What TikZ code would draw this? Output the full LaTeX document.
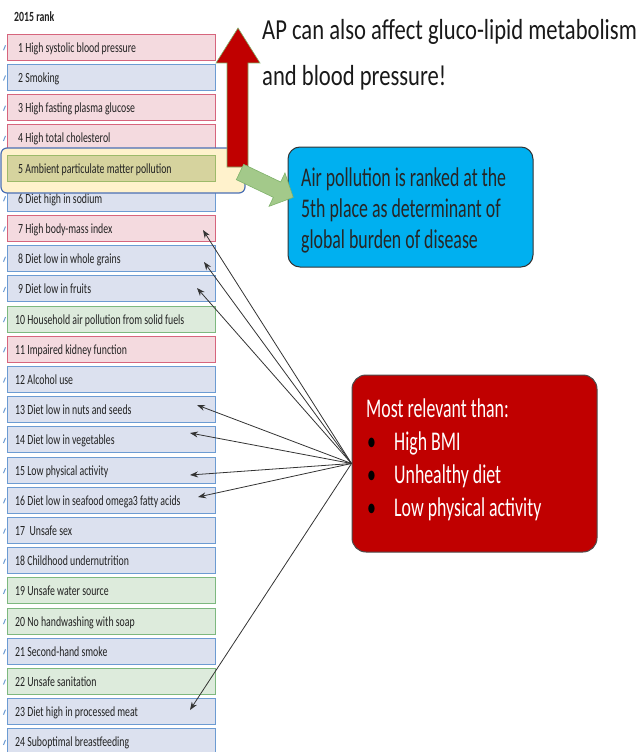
\documentclass[tikz,border=0pt]{standalone}
\usepackage{fontspec}
\setmainfont{Carlito}
\newfontfamily\rankfont[FakeStretch=0.70]{Carlito}
\newfontfamily\bigfont[FakeStretch=0.66]{Carlito}
\newfontfamily\titlefont[FakeStretch=0.78]{Carlito}
\usetikzlibrary{arrows.meta}
\definecolor{rfill}{HTML}{F4DADF}
\definecolor{rline}{HTML}{D6657D}
\definecolor{bfill}{HTML}{DCE1EF}
\definecolor{bline}{HTML}{6C9BD2}
\definecolor{gfill}{HTML}{DDEBDC}
\definecolor{gline}{HTML}{7DB87F}
\definecolor{yfill}{HTML}{D6D39E}
\definecolor{yline}{HTML}{9DBA6A}
\definecolor{hlfill}{HTML}{FFF2CC}
\definecolor{hlline}{HTML}{4A6FB5}
\definecolor{darkred}{HTML}{C00000}
\definecolor{cyanbox}{HTML}{00B0F0}
\definecolor{arrgreen}{HTML}{A3C98A}
\definecolor{arrgreenline}{HTML}{7FB26A}
\definecolor{txt}{HTML}{222222}
\begin{document}
\begin{tikzpicture}[x=1pt,y=-1pt,
  rankbox/.style={line width=1pt, minimum width=208pt, minimum height=26pt, inner sep=0pt},
  boxR/.style={rankbox, fill=rfill, draw=rline},
  boxB/.style={rankbox, fill=bfill, draw=bline},
  boxG/.style={rankbox, fill=gfill, draw=gline},
  boxY/.style={rankbox, fill=yfill, draw=yline},
  ranktext/.style={anchor=base west, inner sep=0pt, text=txt, font=\rankfont\fontsize{14}{16}\selectfont},
  tick/.style={line width=1pt},
  conn/.style={draw=black!80, line width=0.8pt, -{Stealth[length=8pt,width=6pt]}},
  bigtext/.style={anchor=base west, inner sep=0pt, font=\bigfont\fontsize{27}{31}\selectfont},
  titletext/.style={anchor=base west, inner sep=0pt, text=black!90, font=\titlefont\fontsize{29}{33}\selectfont}
]
\useasboundingbox (0,0) rectangle (643,752);

% heading
\node[anchor=base west, inner sep=0pt, text=txt, font=\rankfont\bfseries\fontsize{14}{16}\selectfont] (head) at (14,21.5) {2015 rank};

% rank rows (row 5 drawn later)
\foreach \i/\c/\t in {1/R/High systolic blood pressure, 2/B/Smoking, 3/R/High fasting plasma glucose, 4/R/High total cholesterol, 6/B/Diet high in sodium, 7/R/High body-mass index, 8/B/Diet low in whole grains, 9/B/Diet low in fruits, 10/G/Household air pollution from solid fuels, 11/R/Impaired kidney function, 12/B/Alcohol use, 13/B/Diet low in nuts and seeds, 14/B/Diet low in vegetables, 15/B/Low physical activity, 16/B/Diet low in seafood omega3 fatty acids, 17/B/\ Unsafe sex, 18/B/Childhood undernutrition, 19/G/Unsafe water source, 20/G/No handwashing with soap, 21/B/Second-hand smoke, 22/G/Unsafe sanitation, 23/B/Diet high in processed meat, 24/B/Suboptimal breastfeeding}{
  \pgfmathsetmacro{\yy}{47.3+(\i-1)*30.2}
  \node[box\c] (r\i) at (111,\yy) {};
  \ifnum\i<10
    \node[ranktext] (l\i) at (18,\yy+5) {\i\ \t};
  \else
    \node[ranktext] (l\i) at (15,\yy+5) {\i\ \t};
  \fi
  \draw[tick, draw=\ifx\c R rline\else\ifx\c G gline\else bline\fi\fi] (3.5,\yy+3) -- (5.5,\yy-2);
}

% highlight around row 5
\draw[fill=hlfill, draw=hlline, line width=1.2pt, rounded corners=6pt] (1,148) rectangle (245,193);
\node[boxY] (r5) at (111,168.1) {};
\node[ranktext] (l5) at (18,173.1) {5 Ambient particulate matter pollution};

% red up arrow
\draw[fill=darkred, draw=arrgreenline, line width=0.6pt]
  (227,167) -- (227,63) -- (216,63) -- (238,28) -- (260,63) -- (248,63) -- (248,167) -- cycle;

% title
\node[titletext] (t1) at (262,40) {AP can also affect gluco-lipid metabolism};
\node[titletext] (t2) at (262,85) {and blood pressure!};

% blue box
\node[draw=black!80, fill=cyanbox, line width=1pt, rounded corners=12pt, minimum width=245pt, minimum height=120pt, inner sep=0pt] (blue) at (410.5,207) {};
\node[bigtext, text=black!85] (b1) at (301,186) {Air pollution is ranked at the};
\node[bigtext, text=black!85] (b2) at (301,217) {5th place as determinant of};
\node[bigtext, text=black!85] (b3) at (301,248) {global burden of disease};

% green arrow
\begin{scope}[shift={(240,172)}, rotate=-25.5]
\draw[fill=arrgreen, draw=arrgreenline, line width=0.6pt]
  (0,-8.5) -- (41,-8.5) -- (41,-18.5) -- (59,0) -- (41,18.5) -- (41,8.5) -- (0,8.5) -- cycle;
\end{scope}

% red box
\node[draw=black!70, fill=darkred, line width=1pt, rounded corners=14pt, minimum width=245pt, minimum height=177pt, inner sep=0pt] (red) at (474.5,463.5) {};
\node[bigtext, text=white] (m0) at (366,417) {Most relevant than:};
\node[bigtext, text=black] (d1) at (367,450) {\textbullet};
\node[bigtext, text=black] (d2) at (367,483) {\textbullet};
\node[bigtext, text=black] (d3) at (367,516) {\textbullet};
\node[bigtext, text=white] (m1) at (394,450) {High BMI};
\node[bigtext, text=white] (m2) at (394,483) {Unhealthy diet};
\node[bigtext, text=white] (m3) at (394,516) {Low physical activity};

% arrow tips
\coordinate (p7) at (203,230);
\coordinate (p8) at (204,262);
\coordinate (p9) at (197,288);
\coordinate (p13) at (197,405);
\coordinate (p14) at (190,433);
\coordinate (p15) at (190,475);
\coordinate (p16) at (198,497);
\coordinate (p23) at (190,710);
\foreach \k in {7,8,9,13,14,15,16,23}{
  \draw[conn] (red.west) -- (p\k);
}
\end{tikzpicture}
\end{document}
